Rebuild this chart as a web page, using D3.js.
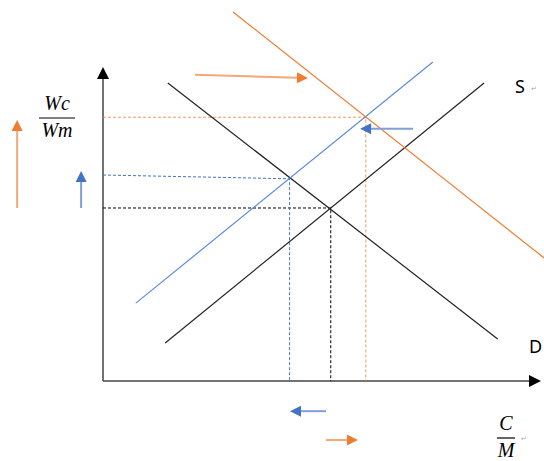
<!DOCTYPE html>
<html>
<head>
<meta charset="utf-8">
<script src="https://cdn.jsdelivr.net/npm/d3@7"></script>
<style>
  body { margin: 0; background: #fff; }
  svg { display: block; }
</style>
</head>
<body>
<div id="chart"></div>
<script>
// curves in chart units (x = C/M, y = Wc/Wm), both 0..100
const supply = [[14.2, 12.1], [87.0, 94.9]]
const demand = [[14.8, 94.9], [90.1, 13.4]]
const supplyNew = [[7.5, 24.8], [75.3, 101.6]]
const demandNew = [[29.7, 117.5], [100.7, 39.2]]

// equilibrium points
const eqOld = [52.0, 55.1]
const eqBlue = [42.6, 64.4]
const eqBlueAxis = 65.6 // blue guide starts slightly higher at the axis
const eqOrange = [60.0, 84.0]

// shift arrows [from, to]
const arrows = [
  {from: [-19.6, 55.1], to: [-19.6, 83.1], color: "orange"},
  {from: [-5.0, 55.1], to: [-5.0, 66.9], color: "blue"},
  {from: [21.0, 97.5], to: [46.8, 96.5], color: "orange"},
  {from: [70.8, 80.3], to: [58.7, 80.3], color: "blue"},
  {from: [50.9, -9.6], to: [42.7, -9.6], color: "blue"},
  {from: [50.9, -18.8], to: [58.2, -18.8], color: "orange"}
]

const COLORS = {
  orange: {line: "#ed7d31", shaft: "#f4a877", head: "#ed7d31"},
  blue: {line: "#5b8bd9", shaft: "#7f9fdc", head: "#4472c4"}
}

const WIDTH = 544
const HEIGHT = 461

const svg = d3.select("#chart").append("svg")
  .attr("width", WIDTH)
  .attr("height", HEIGHT)

const x = d3.scaleLinear().domain([0, 100]).range([103, 541])
const y = d3.scaleLinear().domain([0, 100]).range([381, 67])

const line = d3.line().x(d => x(d[0])).y(d => y(d[1]))

// axes (plain lines with arrowheads)
svg.append("line")
  .attr("x1", x(0)).attr("y1", y(0))
  .attr("x2", x(0)).attr("y2", y(100) + 10)
  .attr("stroke", "#444").attr("stroke-width", 1.5)
svg.append("path")
  .attr("d", `M${x(0)},${y(100)} l-6,12 l12,0 Z`)
  .attr("fill", "#000")
svg.append("line")
  .attr("x1", x(0)).attr("y1", y(0))
  .attr("x2", x(100) - 10).attr("y2", y(0))
  .attr("stroke", "#444").attr("stroke-width", 1.5)
svg.append("path")
  .attr("d", `M${x(100)},${y(0)} l-12,-6 l0,12 Z`)
  .attr("fill", "#000")

// dashed guides
function guide(px, py, pyAxis, color, width) {
  svg.append("path")
    .attr("d", line([[0, pyAxis], [px, py], [px, 0]]))
    .attr("fill", "none")
    .attr("stroke", color)
    .attr("stroke-width", width)
    .attr("stroke-dasharray", "3,2")
}
guide(eqOld[0], eqOld[1], eqOld[1], "#000", 1)
guide(eqBlue[0], eqBlue[1], eqBlueAxis, "#4472c4", 1)
guide(eqOrange[0], eqOrange[1], eqOrange[1], "#ed7d31", 0.8)

// curves
const curves = [
  {data: supply, color: "#222"},
  {data: demand, color: "#222"},
  {data: supplyNew, color: COLORS.blue.line},
  {data: demandNew, color: COLORS.orange.line}
]
svg.selectAll("path.curve")
  .data(curves)
  .enter().append("path")
  .attr("class", "curve")
  .attr("d", d => line(d.data))
  .attr("fill", "none")
  .attr("stroke", d => d.color)
  .attr("stroke-width", 1.2)

// arrows
arrows.forEach(a => {
  const x1 = x(a.from[0]), y1 = y(a.from[1])
  const x2 = x(a.to[0]), y2 = y(a.to[1])
  const ang = Math.atan2(y2 - y1, x2 - x1)
  const len = 11, half = 5.5
  const bx = x2 - len * Math.cos(ang), by = y2 - len * Math.sin(ang)
  svg.append("line")
    .attr("x1", x1).attr("y1", y1)
    .attr("x2", bx).attr("y2", by)
    .attr("stroke", COLORS[a.color].shaft)
    .attr("stroke-width", 2)
  const px = -Math.sin(ang) * half, py = Math.cos(ang) * half
  svg.append("path")
    .attr("d", `M${x2},${y2} L${bx + px},${by + py} L${bx - px},${by - py} Z`)
    .attr("fill", COLORS[a.color].head)
})

// fraction labels
function fraction(cx, top, num, den) {
  const g = svg.append("g")
    .attr("font-family", "'Liberation Serif', serif")
    .attr("font-style", "italic")
    .attr("font-size", 20)
    .attr("fill", "#000")
    .attr("text-anchor", "middle")
  g.append("text").attr("x", cx).attr("y", top + 16).text(num)
  g.append("line")
    .attr("x1", cx - 18).attr("x2", cx + 18)
    .attr("y1", top + 24).attr("y2", top + 24)
    .attr("stroke", "#000").attr("stroke-width", 1.2)
  g.append("text").attr("x", cx).attr("y", top + 43).text(den)
  return g
}
fraction(57, 94, "Wc", "Wm")
const cm = fraction(506, 414, "C", "M")
cm.select("line").attr("x1", 497).attr("x2", 515)

svg.append("text")
  .attr("x", 515).attr("y", 93)
  .attr("font-family", "'Noto Sans', sans-serif")
  .attr("font-size", 18)
  .text("S")
svg.append("text")
  .attr("x", 529).attr("y", 353)
  .attr("font-family", "'Noto Sans', sans-serif")
  .attr("font-size", 18)
  .text("D")

// small paragraph marks
const marks = [[531, 91], [521, 441]]
svg.selectAll("text.mark")
  .data(marks)
  .enter().append("text")
  .attr("class", "mark")
  .attr("x", d => d[0]).attr("y", d => d[1])
  .attr("font-size", 7)
  .attr("fill", "#aaa")
  .text("↵")
</script>
</body>
</html>
